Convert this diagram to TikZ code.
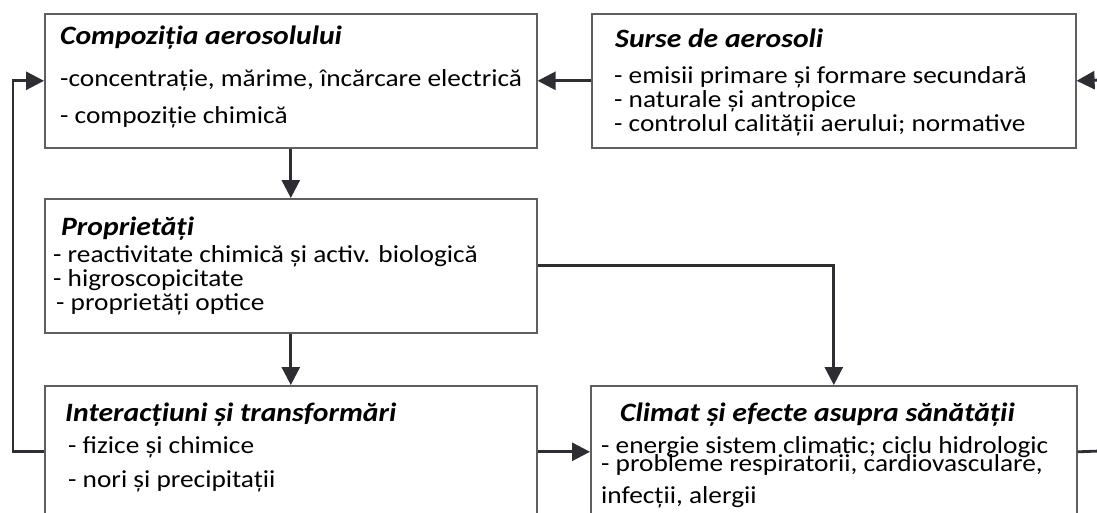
\documentclass[tikz,border=0pt]{standalone}
\usepackage{fontspec}
\setmainfont{Carlito}[FakeStretch=1.12]
\usetikzlibrary{arrows.meta}
\definecolor{boxgray}{RGB}{95,95,95}
\definecolor{arrdark}{RGB}{45,45,52}
\tikzset{
  box/.style={draw=boxgray, line width=1.6pt, rectangle, inner sep=0pt, anchor=north west},
  arr/.style={draw=arrdark, line width=2.8pt, -{Triangle[length=18pt,width=18pt]}},
  ln/.style={draw=arrdark, line width=2.8pt},
  ttl/.style={anchor=base west, inner sep=0pt, font=\fontsize{26.5}{27}\selectfont\bfseries\itshape},
  txt/.style={anchor=base west, inner sep=0pt, font=\fontsize{24.4}{25}\selectfont},
}
\begin{document}
\begin{tikzpicture}[x=1pt,y=-1pt]
\useasboundingbox (0,0) rectangle (1097,512);
\clip (0,0) rectangle (1097,512);
\fill[white] (0,0) rectangle (1097,512);
% boxes
\node[box, minimum width=492pt, minimum height=134pt] (comp) at (44,13) {};
\node[box, minimum width=484pt, minimum height=134pt] (surse) at (591,13) {};
\node[box, minimum width=492pt, minimum height=134pt] (prop) at (44,198) {};
\node[box, minimum width=492pt, minimum height=132pt] (inter) at (44,385) {};
\node[box, minimum width=486pt, minimum height=132pt] (climat) at (590,385) {};
% texts
\node[ttl] (t1) at (60,44) {Compoziția aerosolului};
\node[txt] (t1a) at (60,86) {-concentrație, mărime, încărcare electrică};
\node[txt] (t1b) at (60,123) {- compoziție chimică};
\node[ttl] (t2) at (615,47) {Surse de aerosoli};
\node[txt] (t2a) at (614,83) {- emisii primare și formare secundară};
\node[txt] (t2b) at (614,107) {- naturale și antropice};
\node[txt] (t2c) at (614,131) {- controlul calității aerului; normative};
\node[ttl] (t3) at (61,235) {Proprietăți};
\node[txt] (t3a) at (53,262) {- reactivitate chimică și activ. biologică};
\node[txt] (t3b) at (53,286) {- higroscopicitate};
\node[txt] (t3c) at (56,310) {- proprietăți optice};
\node[ttl] (t4) at (65,421) {Interacțiuni și transformări};
\node[txt] (t4a) at (68,453) {- fizice și chimice};
\node[txt] (t4b) at (68,487) {- nori și precipitații};
\node[ttl] (t5) at (620,421) {Climat și efecte asupra sănătății};
\node[txt] (t5a) at (601,453) {- energie sistem climatic; ciclu hidrologic};
\node[txt] (t5b) at (601,471) {- probleme respiratorii, cardiovasculare,};
\node[txt] (t5c) at (601,503) {infecții, alergii};
% free ends
\coordinate (rin) at (1100,80);
\coordinate (rout) at (1100,451);
% connectors
\draw[arr] (surse.west) -- (comp.east);
\draw[arr] (rin) -- (surse.east);
\draw[arr] (comp.south) -- (prop.north);
\draw[arr] (prop.south) -- (inter.north);
\draw[arr] (prop.east) -| (climat.north);
\draw[arr] (inter.west) -- ++(-31,0) |- (comp.west);
\draw[arr] (inter.east) -- (climat.west);
\draw[ln] (climat.east) -- (rout);
\end{tikzpicture}
\end{document}
